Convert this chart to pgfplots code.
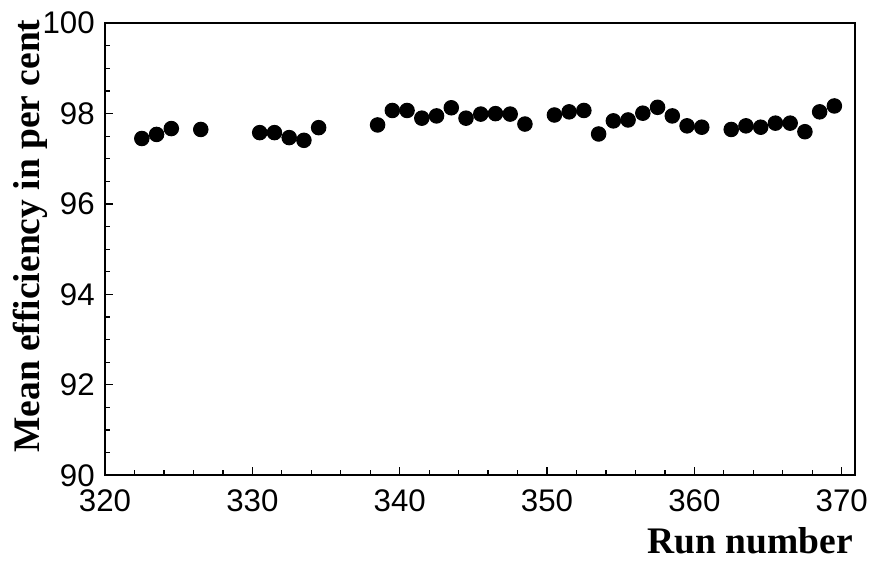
\documentclass[border=0pt]{standalone}
\usepackage{fontspec}
\setmainfont{Liberation Serif}
\newfontfamily\ticksans{Liberation Sans}
\usepackage{pgfplots}
\pgfplotsset{compat=1.18}
\begin{document}
\begin{tikzpicture}
\begin{axis}[
  scale only axis,
  width=300pt, height=180.8pt,
  xmin=320, xmax=370.9,
  ymin=90, ymax=100,
  xtick={320,330,...,370},
  ytick={90,92,...,100},
  minor x tick num=4,
  minor y tick num=3,
  tick pos=left,
  tick align=inside,
  major tick length=3.2pt,
  minor tick length=2pt,
  axis line style={line width=0.9pt},
  every tick/.style={black, line width=0.5pt},
  /pgf/number format/assume math mode=true,
  /pgf/number format/1000 sep={},
  ticklabel style={font=\ticksans\fontsize{12.5}{14}\selectfont},
  xticklabel style={yshift=-2.4pt},
  yticklabel style={xshift=-0.6pt},
  xlabel={\bfseries Run number},
  ylabel={\bfseries Mean efficiency in per cent},
  xlabel style={font=\fontsize{15}{18}\selectfont, at={(axis description cs:1.009,-0.144)}, anchor=east},
  ylabel style={font=\fontsize{15}{18}\selectfont, at={(axis description cs:-0.1,0.529)}, anchor=center, rotate=0},
  clip=false,
]
\addplot[only marks, mark=*, mark size=2.9pt, black, mark options={fill=black}] coordinates {
(322.5,97.45) (323.5,97.54) (324.5,97.67) (326.5,97.65)
(330.5,97.58) (331.5,97.58) (332.5,97.47) (333.5,97.41) (334.5,97.69)
(338.5,97.75) (339.5,98.07) (340.5,98.07) (341.5,97.90) (342.5,97.95)
(343.5,98.13) (344.5,97.90) (345.5,97.99) (346.5,98.00) (347.5,97.99)
(348.5,97.77)
(350.5,97.97) (351.5,98.04) (352.5,98.07) (353.5,97.55) (354.5,97.84)
(355.5,97.86) (356.5,98.01) (357.5,98.14) (358.5,97.95) (359.5,97.73)
(360.5,97.70)
(362.5,97.65) (363.5,97.73) (364.5,97.70) (365.5,97.79) (366.5,97.79)
(367.5,97.60) (368.5,98.04) (369.5,98.17)
};
\end{axis}
\pgfresetboundingbox
\path ([shift={(-42pt,-34.4pt)}]current axis.south west) rectangle ([shift={(5.6pt,9.3pt)}]current axis.north east);
\end{tikzpicture}
\end{document}
